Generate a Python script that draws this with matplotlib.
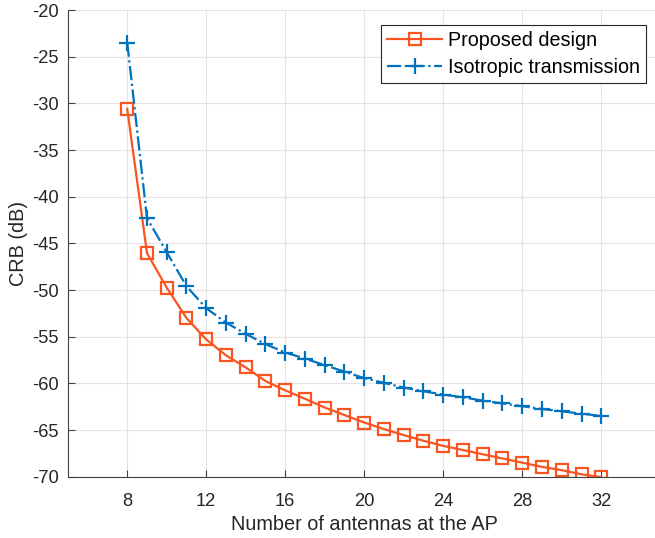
import matplotlib.pyplot as plt

# number of antennas at the AP
antennas = list(range(8, 33))

# CRB in dB
crb_proposed = [-30.6, -46.05, -49.75, -53.0, -55.3, -57.0, -58.3, -59.75, -60.75,
                -61.65, -62.6, -63.4, -64.2, -64.9, -65.55, -66.15, -66.7, -67.15,
                -67.6, -68.05, -68.5, -68.95, -69.3, -69.75, -70.05]
crb_isotropic = [-23.5, -42.3, -45.95, -49.6, -51.95, -53.5, -54.7, -55.8, -56.7,
                 -57.35, -58.05, -58.75, -59.45, -59.95, -60.45, -60.85, -61.2, -61.5,
                 -61.85, -62.15, -62.45, -62.75, -63.0, -63.25, -63.5]

labels = ['Proposed design', 'Isotropic transmission']
xticks = [8, 12, 16, 20, 24, 28, 32]
yticks = list(range(-70, -19, 5))

plt.rcParams['font.family'] = ['Liberation Sans', 'DejaVu Sans']
plt.rcParams['axes.unicode_minus'] = False

fig = plt.figure(figsize=(6.55, 5.38), dpi=100)
ax = fig.add_axes([0.1038, 0.114, 0.9046, 0.8674])

ax.plot(antennas, crb_proposed, '-s', color='#FA5520', lw=1.6, ms=8.5,
        mfc='none', mew=1.6, label=labels[0])
ax.plot(antennas, crb_isotropic, '-.+', color='#0072BD', lw=1.6, ms=12,
        mew=1.6, label=labels[1])

ax.set_xlim(5, 35)
ax.set_ylim(-70, -20)
ax.set_xticks(xticks)
ax.set_yticks(yticks)
ax.grid(True, color='#e3e3e3', lw=0.8)
ax.set_axisbelow(True)

for side in ['top', 'right']:
    ax.spines[side].set_visible(False)
for side in ['left', 'bottom']:
    ax.spines[side].set_color('#404040')
    ax.spines[side].set_linewidth(0.8)
ax.tick_params(direction='in', length=5, width=0.8, color='#404040',
               labelsize=13.2, labelcolor='#262626')
ax.tick_params(axis='x', pad=11.5)
ax.tick_params(axis='y', pad=6.5)

ax.set_xlabel('Number of antennas at the AP', fontsize=14.3, color='#262626',
              labelpad=4)
ax.set_ylabel('CRB (dB)', fontsize=14.3, color='#262626', labelpad=3)

leg = ax.legend(loc='upper right', bbox_to_anchor=(0.9755, 0.968), fontsize=14.2,
                fancybox=False, framealpha=1, edgecolor='#262626',
                borderpad=0.3, handlelength=2.8, handletextpad=0.3,
                labelspacing=0.4, borderaxespad=0)
leg.get_frame().set_linewidth(0.8)

fig.savefig('out.png', dpi=100)
